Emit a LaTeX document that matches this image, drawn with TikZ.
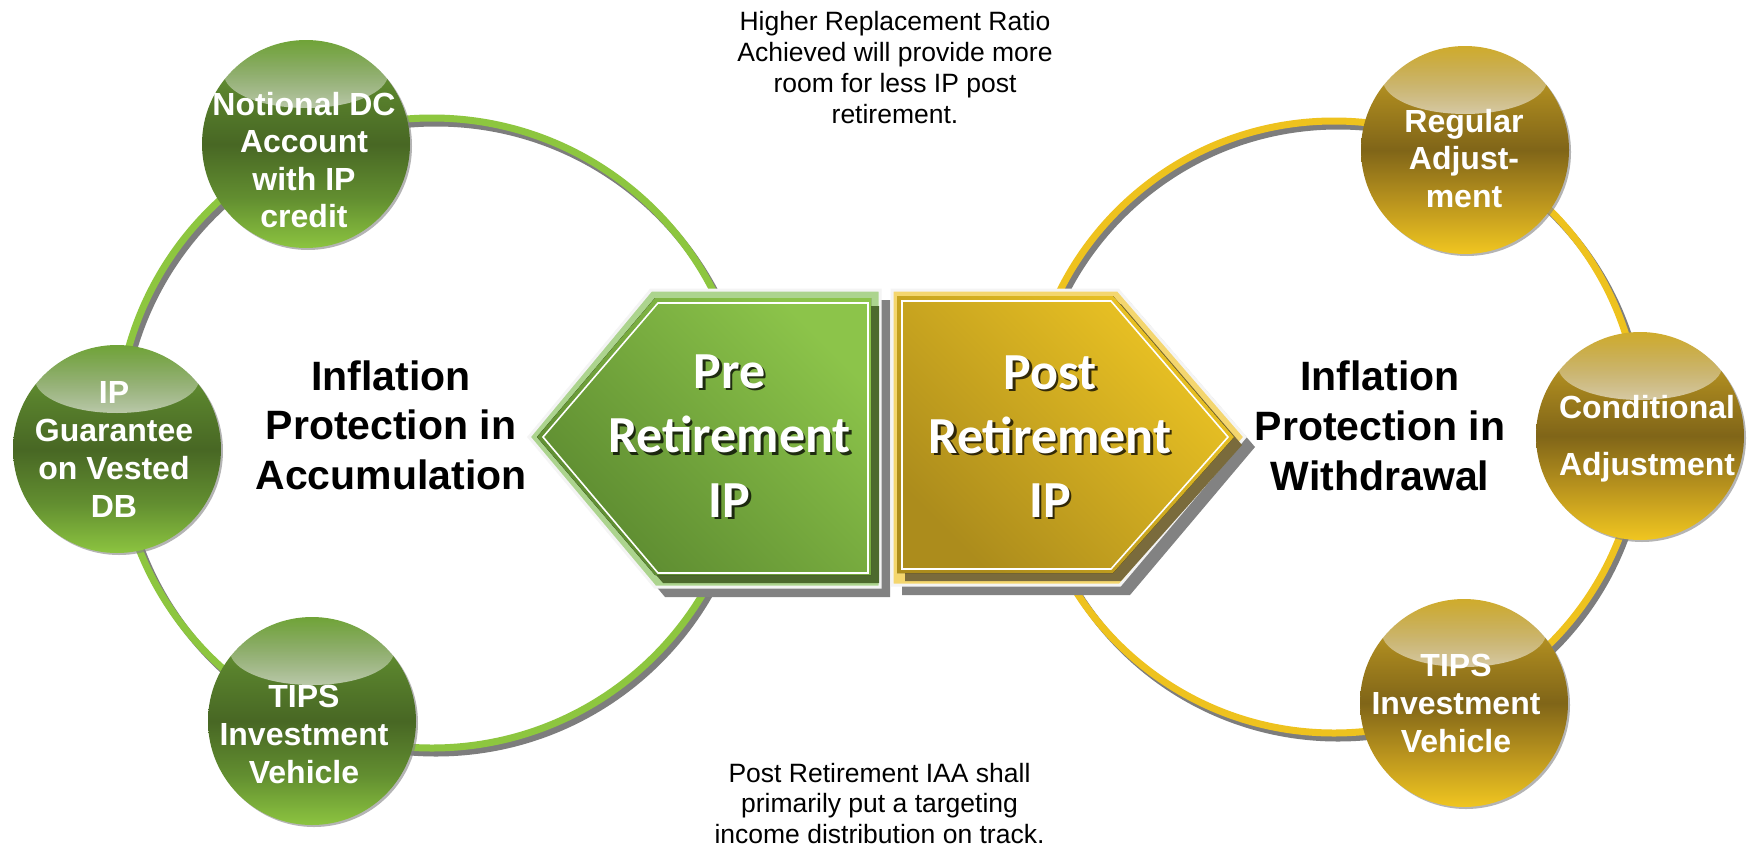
\documentclass[tikz,border=0pt]{standalone}
\usepackage{fontspec}
\setmainfont{Liberation Sans}
\newfontfamily\boxfont{Carlito}
\usetikzlibrary{fadings}

% ring and ball colours
\definecolor{ringgreen}{RGB}{141,198,63}
\definecolor{ringgold}{RGB}{238,194,30}
\definecolor{ringshade}{RGB}{125,125,125}
\definecolor{gbA}{RGB}{140,196,64}
\definecolor{gbB}{RGB}{98,142,48}
\definecolor{gbC}{RGB}{72,103,36}
\definecolor{gbD}{RGB}{88,128,44}
\definecolor{gbE}{RGB}{112,164,56}
\definecolor{ybA}{RGB}{240,198,32}
\definecolor{ybB}{RGB}{188,150,30}
\definecolor{ybC}{RGB}{128,101,24}
\definecolor{ybD}{RGB}{165,132,30}
\definecolor{ybE}{RGB}{208,172,44}
% block arrow colours
\definecolor{preLight}{RGB}{140,196,74}
\definecolor{preDeep}{RGB}{92,138,48}
\definecolor{preBand}{RGB}{77,106,45}
\definecolor{preFrame}{RGB}{172,212,142}
\definecolor{postLight}{RGB}{236,196,36}
\definecolor{postDeep}{RGB}{172,140,28}
\definecolor{postBand}{RGB}{122,107,60}
\definecolor{postFrame}{RGB}{244,214,110}
\definecolor{boxshade}{RGB}{130,130,130}
\definecolor{glow}{RGB}{244,244,244}

\pgfdeclareverticalshading{greenball}{100bp}{color(0bp)=(gbA); color(25bp)=(gbA); color(37bp)=(gbB); color(50bp)=(gbC); color(62bp)=(gbD); color(75bp)=(gbE); color(100bp)=(gbE)}
\pgfdeclareverticalshading{goldball}{100bp}{color(0bp)=(ybA); color(25bp)=(ybA); color(37bp)=(ybB); color(50bp)=(ybC); color(62bp)=(ybD); color(75bp)=(ybE); color(100bp)=(ybE)}

\tikzset{
  ball/.style={circle, minimum size=208pt, inner sep=0pt, outer sep=0pt,
    preaction={fill=boxshade, opacity=0.6, transform canvas={shift={(2pt,-2pt)}}}},
  greenbead/.style={ball, shading=greenball},
  goldbead/.style={ball, shading=goldball},
  beadtxt/.style={anchor=base, inner sep=0pt, text=white,
    font=\fontsize{32}{37}\selectfont\bfseries},
  capt/.style={anchor=base, inner sep=0pt, text=black,
    font=\fontsize{41}{49}\selectfont\bfseries},
  note/.style={anchor=base, inner sep=0pt, text=black,
    font=\fontsize{26.5}{31}\selectfont},
  boxtxt/.style={anchor=base, inner sep=0pt, text=white,
    font=\boxfont\fontsize{52}{64}\selectfont\bfseries},
  boxtxtshadow/.style={boxtxt, text=black, opacity=0.75},
  ringline/.style={line width=7pt},
}

% glossy highlight on the upper part of a bead
\newcommand\beadgloss[1]{%
  \fill[white, path fading=north, fill opacity=0.6]
    ([shift={(0,-70)}]#1) ellipse[x radius=82, y radius=34];}

\begin{document}
\begin{tikzpicture}[x=1pt,y=-1pt]
\useasboundingbox (0,0) rectangle (1752,849);
\fill[white] (0,0) rectangle (1752,849);

% ---- the two rings ----
\coordinate (ringL) at (432,433);
\coordinate (ringR) at (1334,427);
\draw[ringline, ringshade] ([shift={(4,5)}]ringL) circle[radius=315];
\draw[ringline, ringgreen] (ringL) circle[radius=315];
\draw[ringline, ringshade] ([shift={(4,5)}]ringR) circle[radius=306];
\draw[ringline, ringgold] (ringR) circle[radius=306];

% ---- Pre Retirement block arrow (points left) ----
\fill[boxshade] (539,447) -- (661,300) -- (890,300) -- (890,597) -- (665,597) -- cycle;
\filldraw[fill=preFrame, draw=glow, line width=3pt, line join=miter]
  (529,437) -- (651,290) -- (880,290) -- (880,587) -- (655,587) -- cycle;
\fill[preBand] (545,445) -- (663,306) -- (879,306) -- (879,583) -- (663,583) -- cycle;
\fill[top color=preLight, bottom color=preDeep, shading angle=-45]
  (537,437) -- (655,298) -- (871,298) -- (871,575) -- (655,575) -- cycle;
\draw[white, line width=1.6pt, line join=miter]
  (543,437) -- (658,303) -- (868,303) -- (868,573) -- (658,573) -- cycle;

% ---- Post Retirement block arrow (points right) ----
\fill[boxshade] (902,300) -- (1128,300) -- (1255,447) -- (1130,595) -- (902,595) -- cycle;
\filldraw[fill=postFrame, draw=glow, line width=3pt, line join=miter]
  (892,290) -- (1118,290) -- (1245,437) -- (1120,585) -- (892,585) -- cycle;
\fill[postBand] (905,304) -- (1121,304) -- (1242,445) -- (1121,581) -- (905,581) -- cycle;
\fill[top color=postLight, bottom color=postDeep, shading angle=-45]
  (897,296) -- (1113,296) -- (1234,437) -- (1113,573) -- (897,573) -- cycle;
\draw[white, line width=1.6pt, line join=miter]
  (902,301) -- (1111,301) -- (1228,437) -- (1111,569) -- (902,569) -- cycle;

\foreach \s [count=\k from 0] in {Pre,Retirement,IP}{
  \node[boxtxtshadow] (preS-\k) at (732,{390.5+64.5*\k}) {\s};
  \node[boxtxt] (pre-\k) at (729.5,{388+64.5*\k}) {\s};
}
\foreach \s [count=\k from 0] in {Post,Retirement,IP}{
  \node[boxtxtshadow] (postS-\k) at (1052.5,{391.5+64*\k}) {\s};
  \node[boxtxt] (post-\k) at (1050,{389+64*\k}) {\s};
}

% ---- beads on the green ring ----
\node[greenbead] (ndc) at (306,144) {};
\node[greenbead] (ipg) at (117,449) {};
\node[greenbead] (tipsL) at (312,721) {};
\beadgloss{ndc}\beadgloss{ipg}\beadgloss{tipsL}

% ---- beads on the gold ring ----
\node[goldbead] (reg) at (1465,150) {};
\node[goldbead] (cond) at (1640,436) {};
\node[goldbead] (tipsR) at (1464,703) {};
\beadgloss{reg}\beadgloss{cond}\beadgloss{tipsR}

% bead labels
\foreach \s [count=\k from 0] in {Notional DC,Account,with IP,credit}
  \node[beadtxt] (ndc-\k) at (304,{115+37.5*\k}) {\s};
\foreach \s [count=\k from 0] in {IP,Guarantee,on Vested,DB}
  \node[beadtxt] (ipg-\k) at (114,{403+38*\k}) {\s};
\foreach \s [count=\k from 0] in {TIPS,Investment,Vehicle}
  \node[beadtxt] (tipsL-\k) at (304,{707+38*\k}) {\s};
\foreach \s [count=\k from 0] in {Regular,Adjust-,ment}
  \node[beadtxt] (reg-\k) at (1464,{132+37.5*\k}) {\s};
\foreach \s [count=\k from 0] in {Conditional,Adjustment}
  \node[beadtxt] (cond-\k) at (1647,{418+57*\k}) {\s};
\foreach \s [count=\k from 0] in {TIPS,Investment,Vehicle}
  \node[beadtxt] (tipsR-\k) at (1456,{676+38*\k}) {\s};

% ---- ring captions ----
\foreach \s [count=\k from 0] in {Inflation,Protection in,Accumulation}
  \node[capt] (acc-\k) at (391,{390+49.75*\k}) {\s};
\foreach \s [count=\k from 0] in {Inflation,Protection in,Withdrawal}
  \node[capt] (wd-\k) at (1380,{390+50*\k}) {\s};

% ---- notes ----
\foreach \s [count=\k from 0] in {Higher Replacement Ratio,Achieved will provide more,room for less IP post,retirement.}
  \node[note] (top-\k) at (895,{30+31*\k}) {\s};
\foreach \s [count=\k from 0] in {Post Retirement IAA shall,primarily put a targeting,income distribution on track.}
  \node[note] (bot-\k) at (879.5,{782+30.5*\k}) {\s};
\end{tikzpicture}
\end{document}
